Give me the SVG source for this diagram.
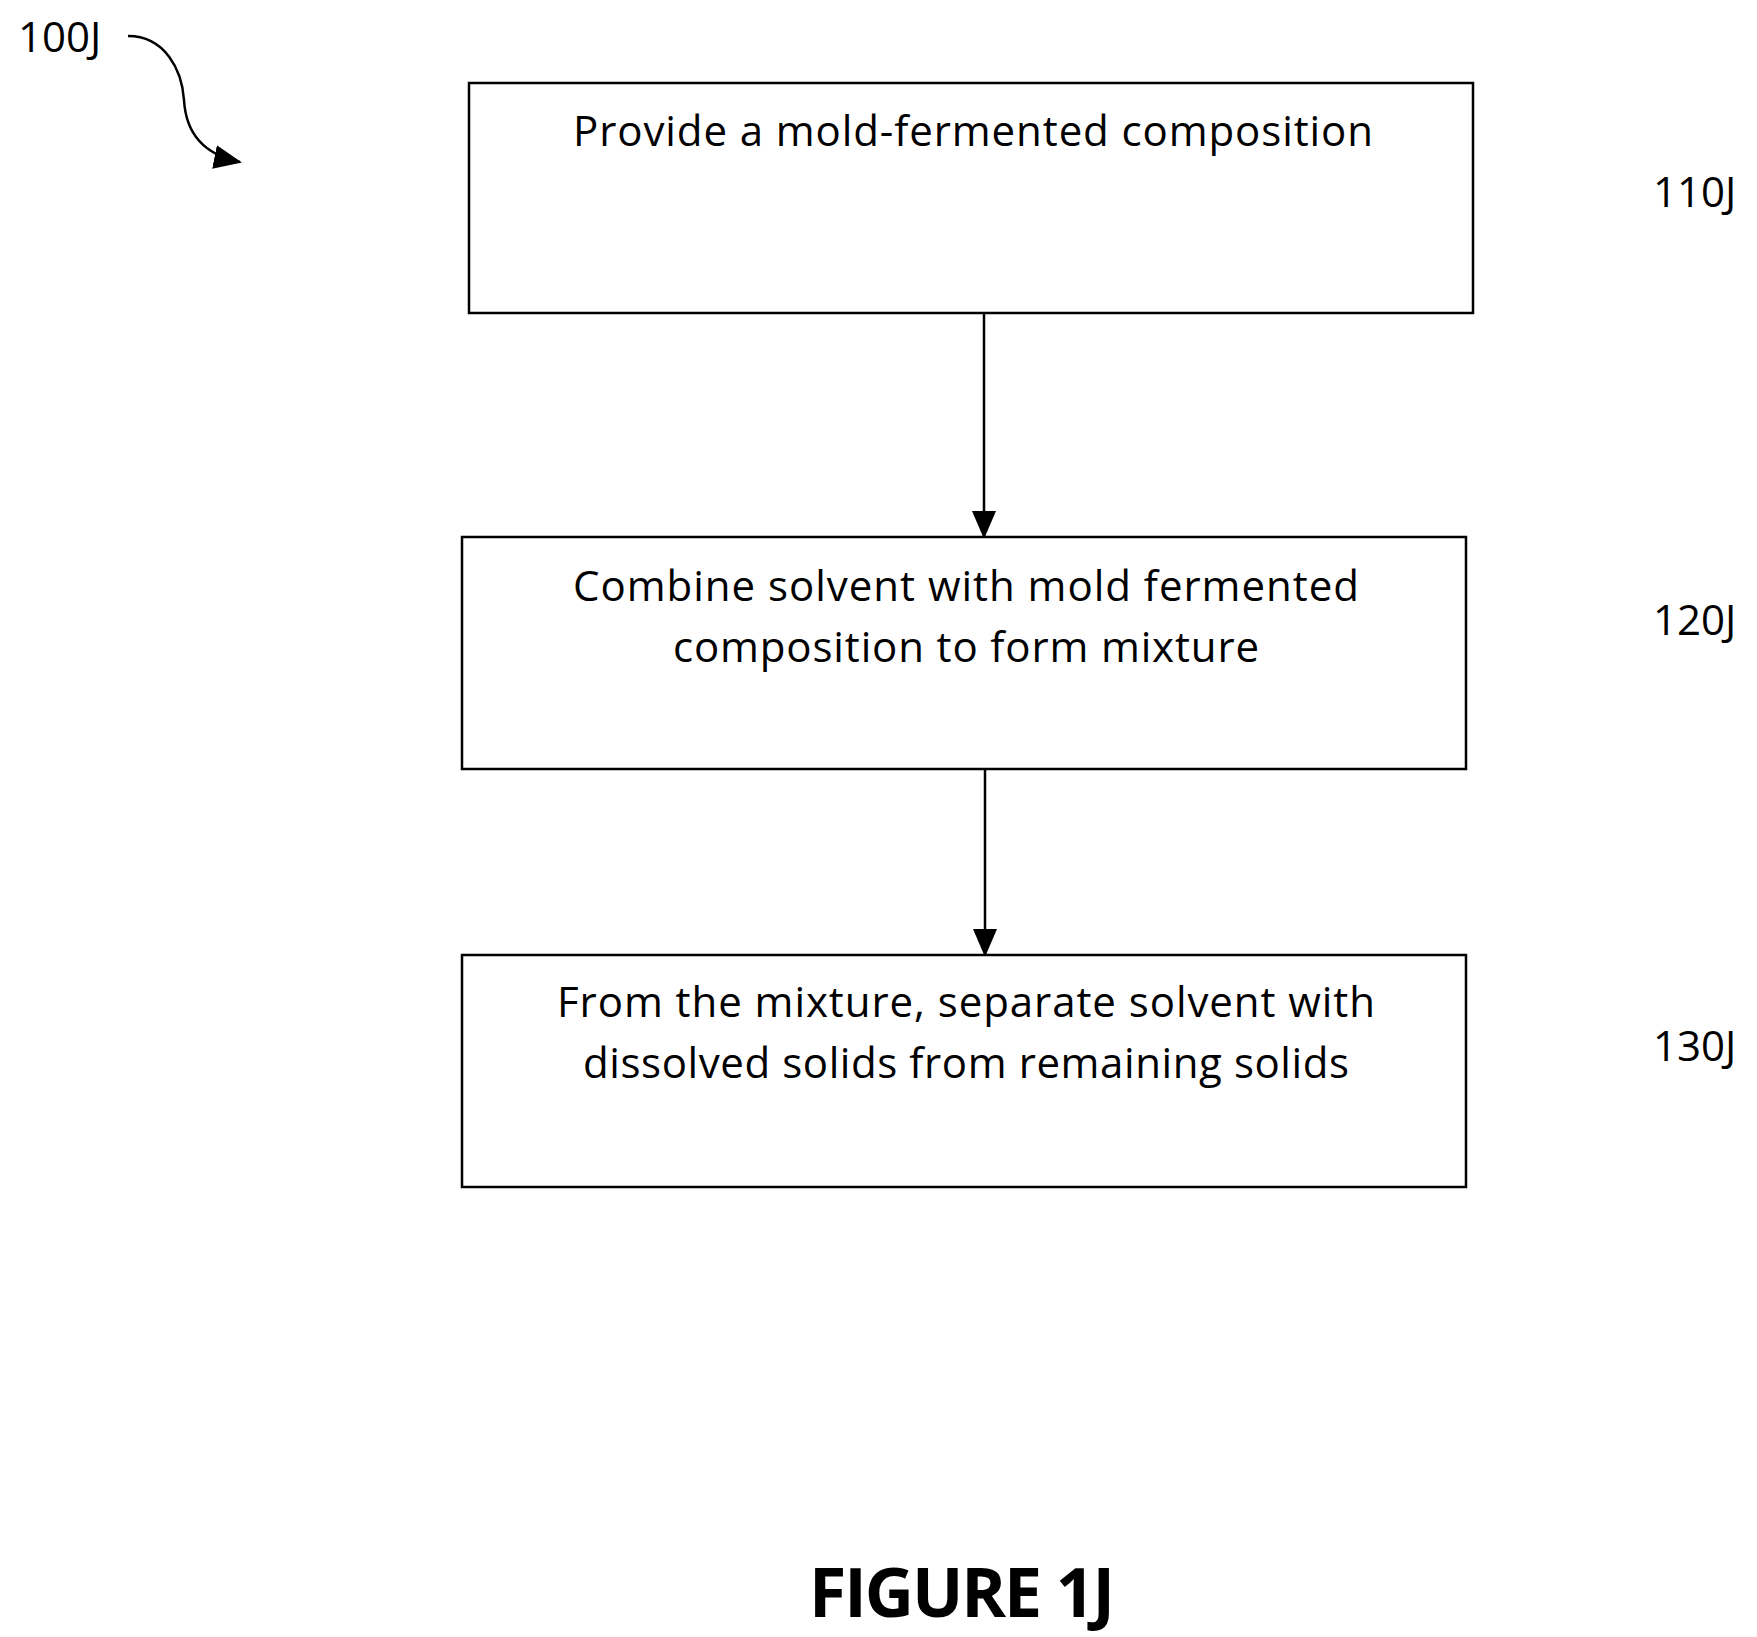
<svg xmlns="http://www.w3.org/2000/svg" width="1757" height="1637" viewBox="0 0 1757 1637">
<style>
.b{fill:#fff;stroke:#000;stroke-width:2.5}
.t{font-family:"Open Sans","Liberation Sans",sans-serif;font-size:42px;fill:#000}
.c{text-anchor:middle}
.l{stroke:#000;stroke-width:2.5;fill:none}
</style>
<defs>
<marker id="a2" markerWidth="28" markerHeight="24" refX="26" refY="12" orient="auto" markerUnits="userSpaceOnUse"><path d="M0,0L28,12L0,24z"/></marker></defs>
<rect width="1757" height="1637" fill="#fff"/>
<text class="t" x="18" y="52">100J</text>
<g id="connectors">
<path class="l" d="M128,36C165,36 182,70 184,100C186,135 205,155 240,162" marker-end="url(#a2)"/>
<line class="l" x1="984" y1="313" x2="984" y2="537" marker-end="url(#a2)"/>
<line class="l" x1="985" y1="769" x2="985" y2="955" marker-end="url(#a2)"/>
</g>
<g id="n110"><rect class="b" x="469" y="83" width="1004" height="230"/>
<text class="t c" x="973" y="146" textLength="800">Provide a mold-fermented composition</text></g>
<g id="n120"><rect class="b" x="462" y="537" width="1004" height="232"/>
<text class="t c" x="966" y="601" textLength="786">Combine solvent with mold fermented</text>
<text class="t c" x="966" y="662" textLength="586">composition to form mixture</text></g>
<g id="n130"><rect class="b" x="462" y="955" width="1004" height="232"/>
<text class="t c" x="966" y="1017" textLength="818">From the mixture, separate solvent with</text>
<text class="t c" x="966" y="1078" textLength="766">dissolved solids from remaining solids</text></g>
<text class="t" x="1653" y="207">110J</text>
<text class="t" x="1653" y="635">120J</text>
<text class="t" x="1653" y="1061">130J</text>
<text class="t c" x="962" y="1617" style="font-size:68px;font-weight:bold" textLength="306">FIGURE 1J</text>
</svg>
